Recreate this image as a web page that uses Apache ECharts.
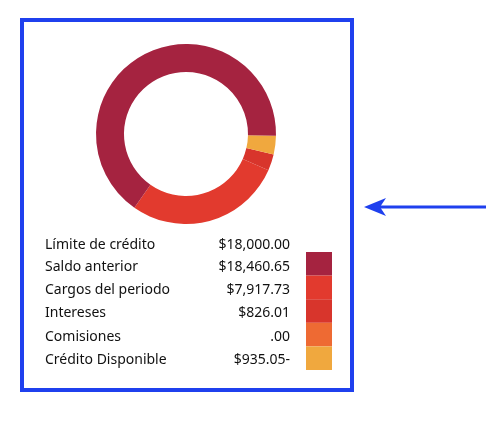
<!DOCTYPE html>
<html>
<head>
<meta charset="utf-8">
<script src="https://cdn.jsdelivr.net/npm/echarts@6/dist/echarts.min.js"></script>
<style>html,body{margin:0;padding:0;background:#fff}#chart{width:502px;height:423px}</style>
</head>
<body>
<div id="chart"></div>
<script>
var rowLabels = ['Límite de crédito', 'Saldo anterior', 'Cargos del periodo', 'Intereses', 'Comisiones', 'Crédito Disponible'];
var rowValues = ['$18,000.00', '$18,460.65', '$7,917.73', '$826.01', '.00', '$935.05-'];
// donut slices, drawn counterclockwise starting with cargos
var sliceNames = ['Cargos del periodo', 'Intereses', 'Comisiones', 'Crédito Disponible', 'Saldo anterior'];
var sliceValues = [7917.73, 826.01, 0, 935.05, 18460.65];
var sliceColors = ['#e23a2e', '#d8352c', '#ee6a33', '#f0a83e', '#a52340'];
// swatch colours top to bottom
var swatchColors = ['#a52340', '#e23a2e', '#d8352c', '#ee6a33', '#f0a83e'];

var chart = echarts.init(document.getElementById('chart'));
var graphics = [
  { type: 'rect', shape: { x: 22, y: 20, width: 330, height: 370 }, style: { fill: 'none', stroke: '#1f40ee', lineWidth: 4 } },
  { type: 'line', shape: { x1: 486, y1: 207, x2: 378, y2: 207 }, style: { stroke: '#1f40ee', lineWidth: 3 } },
  { type: 'polygon', shape: { points: [[364, 207], [386, 198], [380, 207], [386, 216]] }, style: { fill: '#1f40ee' } }
];
var rowY = [245, 267, 290, 313, 337, 360];
rowLabels.forEach(function (t, i) {
  graphics.push({ type: 'text', x: 45, y: rowY[i], style: { text: t, font: '14px "Noto Sans", sans-serif', fill: '#111', verticalAlign: 'middle' } });
  graphics.push({ type: 'text', x: 290, y: rowY[i], style: { text: rowValues[i], font: '14px "Noto Sans", sans-serif', fill: '#111', align: 'right', verticalAlign: 'middle' } });
});
swatchColors.forEach(function (c, i) {
  graphics.push({ type: 'rect', shape: { x: 306, y: 252 + i * 23.6, width: 26, height: 23.6 }, style: { fill: c } });
});

chart.setOption({
  animation: false,
  graphic: graphics,
  series: [{
    type: 'pie',
    center: [186, 134],
    radius: [62, 90],
    startAngle: 235,
    clockwise: false,
    minAngle: 0,
    label: { show: false },
    labelLine: { show: false },
    silent: true,
    data: sliceValues.map(function (v, i) {
      return { name: sliceNames[i], value: v, itemStyle: { color: sliceColors[i] } };
    })
  }]
});
</script>
</body>
</html>
